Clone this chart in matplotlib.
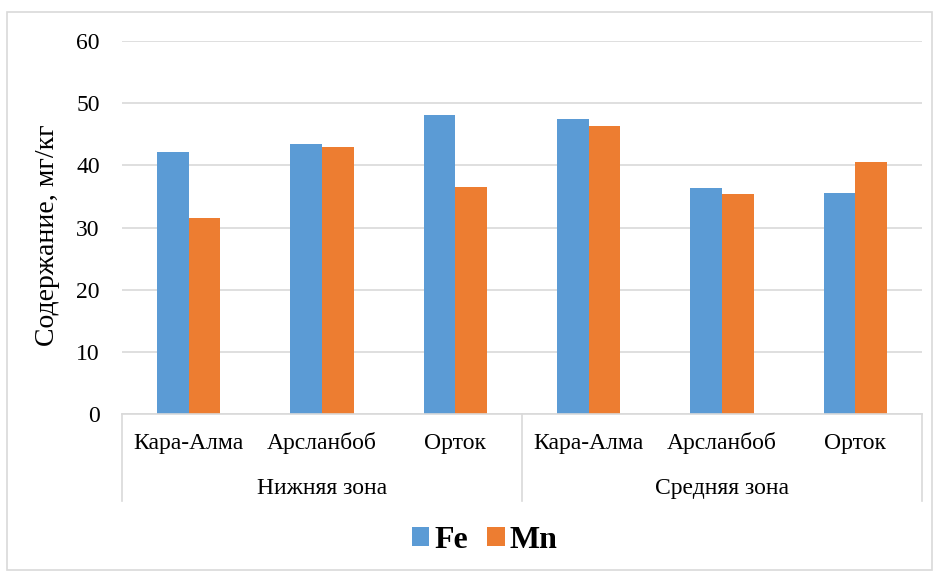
import matplotlib.pyplot as plt
import numpy as np
from matplotlib.patches import Rectangle
from matplotlib.lines import Line2D

plt.rcParams['font.family'] = ['Liberation Serif', 'DejaVu Serif']

# data
sites = ['Кара-Алма', 'Арсланбоб', 'Орток', 'Кара-Алма', 'Арсланбоб', 'Орток']
zones = ['Нижняя зона', 'Средняя зона']
fe = [42.2, 43.4, 48.1, 47.5, 36.3, 35.5]
mn = [31.6, 42.9, 36.5, 46.4, 35.4, 40.5]

blue = '#5B9BD5'
orange = '#ED7D31'
grid = '#D9D9D9'

fig = plt.figure(figsize=(9.39, 5.74), dpi=100)
ax = fig.add_axes([122 / 939, 1 - 414 / 574, 800 / 939, 373 / 574])

x = np.arange(len(sites))
w = 0.2375
ax.bar(x - w / 2, fe, w, color=blue, label='Fe')
ax.bar(x + w / 2, mn, w, color=orange, label='Mn')

ax.set_xlim(-0.5, len(sites) - 0.5)
ax.set_ylim(0, 60)
ax.set_yticks(range(0, 61, 10))
ax.yaxis.grid(True, color=grid, linewidth=1.2)
ax.set_axisbelow(True)
for s in ['top', 'right', 'left']:
    ax.spines[s].set_visible(False)
ax.spines['bottom'].set_color(grid)
ax.spines['bottom'].set_linewidth(1.2)
ax.tick_params(axis='y', length=0, pad=16, labelsize=17)
ax.set_xticks([])
ax.set_ylabel('Содержание, мг/кг', fontsize=20)
ax.yaxis.set_label_coords(-0.077, 0.48)

# multi-level category axis
tr = ax.get_xaxis_transform()
for i, s in enumerate(sites):
    ax.text(i, -0.078, s, transform=tr, ha='center', va='center', fontsize=17)
for j, z in enumerate(zones):
    ax.text(3 * j + 1, -0.201, z, transform=tr, ha='center', va='center', fontsize=17)
for xs in [-0.5, 2.5, 5.5]:
    ax.add_line(Line2D([xs, xs], [0, -0.232], transform=tr, color=grid,
                       linewidth=1.2, clip_on=False))

leg = fig.legend(loc='center', bbox_to_anchor=(0.516, 1 - 540 / 574), ncol=2,
                 frameon=False, prop={'size': 23, 'weight': 'bold'},
                 handlelength=0.55, handleheight=0.55, handletextpad=0.15,
                 columnspacing=0.6)

fig.patches.append(Rectangle((7 / 939, 1 - 570 / 574), 925 / 939, 558 / 574,
                             transform=fig.transFigure, fill=False,
                             edgecolor=grid, linewidth=1.2))

fig.savefig('out.png', dpi=100)
